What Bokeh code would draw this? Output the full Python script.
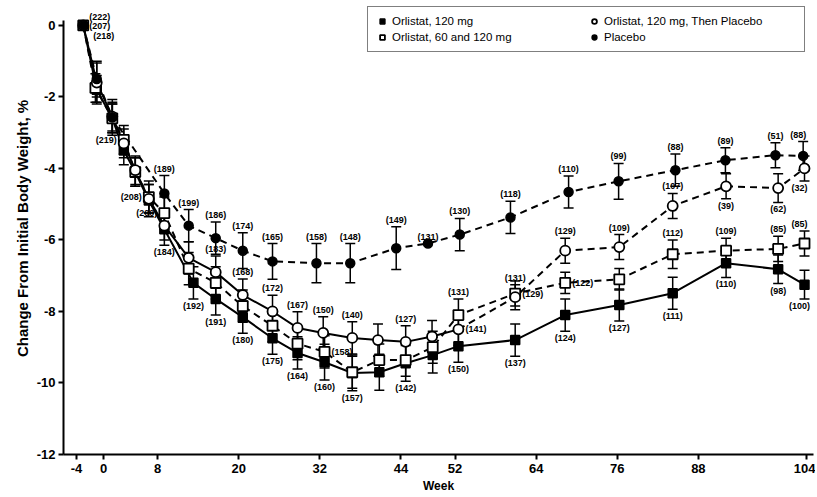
from bokeh.plotting import figure
from bokeh.models import (ColumnDataSource, Whisker, TeeHead, FixedTicker,
                          Legend, LegendItem, Label)
from bokeh.embed import file_html
from bokeh.resources import INLINE
from bokeh.core.properties import value

# ---------------- data ----------------
x_ticks = [-4, 0, 8, 20, 32, 44, 52, 64, 76, 88, 104]
y_ticks = [0, -2, -4, -6, -8, -10, -12]

# Orlistat, 120 mg (filled squares)
o120_week = [-3, -1, 1.3, 3, 4.7, 6.7, 9, 13.3, 16.6, 20.6, 25, 28.7, 32.7,
             36.8, 40.8, 44.7, 48.7, 52.5, 60.9, 68.3, 76.3, 84.2, 92.1, 99.8, 103.7]
o120_val = [0, -1.8, -2.6, -3.5, -4.1, -4.9, -5.7, -7.2, -7.65, -8.16, -8.75, -9.16, -9.42,
            -9.72, -9.7, -9.45, -9.22, -8.97, -8.8, -8.1, -7.82, -7.49, -6.65, -6.82, -7.25]
o120_err = [0, 0.4, 0.4, 0.4, 0.4, 0.45, 0.45, 0.45, 0.45, 0.45, 0.45, 0.45, 0.5,
            0.5, 0.5, 0.5, 0.5, 0.45, 0.45, 0.45, 0.45, 0.45, 0.4, 0.4, 0.4]
o120_n = [None, None, None, None, None, None, 184, 192, 191, 180, 175, 164, 160,
          157, None, 142, None, 150, 137, 124, 127, 111, 110, 98, 100]

# Orlistat, 60 and 120 mg (open squares)
o60_week = [-3, -1.2, 1.3, 3, 4.7, 6.7, 9, 12.6, 16.6, 20.6, 25, 28.7, 32.7,
            36.8, 40.8, 44.7, 48.7, 52.5, 60.9, 68.3, 76.3, 84.2, 92.1, 99.8, 103.7]
o60_val = [0, -1.75, -2.6, -3.2, -4.1, -4.8, -5.25, -6.8, -7.2, -7.85, -8.4, -8.9, -9.13,
           -9.7, -9.36, -9.36, -9.0, -8.1, -7.5, -7.2, -7.1, -6.4, -6.3, -6.25, -6.1]
o60_err = [0, 0.4, 0.4, 0.4, 0.4, 0.45, 0.45, 0.45, 0.45, 0.45, 0.45, 0.45, 0.45,
           0.45, 0.45, 0.45, 0.45, 0.45, 0.35, 0.3, 0.3, 0.4, 0.35, 0.35, 0.35]
o60_n = [None, None, None, 219, None, 208, 200, None, None, None, None, None, 158,
         None, None, None, None, 131, 129, 122, None, 112, 109, 85, 85]

# Orlistat, 120 mg, then placebo (open circles)
ocp_week = [-3, -1, 1.3, 3, 4.7, 6.7, 9, 12.6, 16.6, 20.6, 25, 28.7, 32.5,
            36.8, 40.6, 44.7, 48.6, 52.5, 60.9, 68.3, 76.3, 84.2, 92.1, 99.8, 103.7]
ocp_val = [0, -1.6, -2.55, -3.3, -4.05, -4.85, -5.6, -6.5, -6.9, -7.54, -8.0, -8.46, -8.6,
           -8.74, -8.8, -8.85, -8.7, -8.5, -7.6, -6.3, -6.2, -5.05, -4.5, -4.55, -4.0]
ocp_err = [0, 0.55, 0.4, 0.4, 0.4, 0.4, 0.4, 0.45, 0.45, 0.45, 0.45, 0.45, 0.45,
           0.45, 0.45, 0.45, 0.45, 0.45, 0.35, 0.35, 0.35, 0.35, 0.35, 0.4, 0.35]
ocp_n = [None, None, None, None, None, None, None, None, 183, 168, 172, 167, 150,
         140, None, 127, None, 141, 131, 129, 109, 107, 39, 62, 32]

# Placebo (filled circles)
pl_week = [-3, -1, 1.3, 9, 12.6, 16.6, 20.6, 25, 31.5, 36.5, 43.3, 48, 52.7,
           60.2, 68.8, 76.2, 84.6, 92, 99.4, 103.5]
pl_val = [0, -1.5, -2.57, -4.7, -5.6, -5.95, -6.3, -6.6, -6.65, -6.65, -6.23, -6.1, -5.85,
          -5.37, -4.66, -4.36, -4.05, -3.77, -3.63, -3.65]
pl_err = [0, 0.5, 0.5, 0.5, 0.45, 0.45, 0.5, 0.5, 0.55, 0.55, 0.6, 0, 0.45,
          0.45, 0.45, 0.5, 0.45, 0.35, 0.35, 0.4]
pl_n = [None, None, None, 189, 199, 186, 174, 165, 158, 148, 149, 131, 130,
        118, 110, 99, 88, 89, 51, 88]

baseline_n = [222, 207, 218]

legend_labels = ["Orlistat, 120 mg", "Orlistat, 60 and 120 mg",
                 "Orlistat, 120 mg, Then Placebo", "Placebo"]

# ---------------- styling ----------------
FONT = "Liberation Sans"
o120_side = ["b"] * len(o120_week)
o60_side = ["", "", "", "l", "", "l", "l", "", "", "", "", "", "r",
            "", "", "", "", "a", "r", "r", "", "a", "a", "a", "a"]
ocp_side = ["a"] * 22 + ["b", "b", "b"]
ocp_side[17] = "r"
pl_side = ["a"] * len(pl_week)

W, H = 815, 495
p = figure(width=W, height=H, x_range=(-5.92, 105.03), y_range=(-12, 0.64),
           output_backend="svg", toolbar_location=None,
           min_border_left=63, min_border_right=2, min_border_top=2,
           min_border_bottom=40)
p.grid.visible = False
p.outline_line_color = None
p.background_fill_color = "white"

p.xaxis.ticker = FixedTicker(ticks=x_ticks)
p.yaxis.ticker = FixedTicker(ticks=y_ticks)
p.yaxis.bounds = (-12, 0.14)
p.xaxis.major_label_overrides = {t: str(t) for t in x_ticks}
p.yaxis.major_label_overrides = {t: str(t) for t in y_ticks}
for ax in (p.xaxis, p.yaxis):
    ax.axis_line_width = 2
    ax.axis_line_color = "black"
    ax.major_tick_line_width = 2
    ax.major_tick_in = 0
    ax.major_tick_out = 5
    ax.minor_tick_line_color = None
    ax.major_label_text_font = FONT
    ax.major_label_text_font_size = "13px"
    ax.major_label_text_font_style = "bold"
    ax.major_label_text_color = "black"
    ax.axis_label_text_font = FONT
    ax.axis_label_text_font_style = "bold"
    ax.axis_label_text_color = "black"
p.xaxis.major_label_standoff = 4
p.yaxis.major_label_standoff = 3
p.xaxis.axis_label = "Week"
p.xaxis.axis_label_text_font_size = "12px"
p.xaxis.axis_label_standoff = 3
p.yaxis.axis_label = "Change From Initial Body Weight, %"
p.yaxis.axis_label_text_font_size = "15px"
p.yaxis.axis_label_standoff = 3


def split(weeks, vals, first, last):
    w = [x for x in weeks if first <= x <= last]
    v = [vals[i] for i, x in enumerate(weeks) if first <= x <= last]
    return w, v


LW = 2
DASH = "7 5"
p.line(o120_week, o120_val, line_width=LW, line_color="black")
p.line(o60_week, o60_val, line_width=LW, line_color="black", line_dash=DASH)
w1, v1 = split(ocp_week, ocp_val, -10, 52.6)
w2, v2 = split(ocp_week, ocp_val, 52.4, 200)
p.line(w1, v1, line_width=LW, line_color="black")
p.line(w2, v2, line_width=LW, line_color="black", line_dash=DASH)
p.line(pl_week, pl_val, line_width=LW, line_color="black", line_dash=DASH)


def whiskers(weeks, vals, errs):
    xs = [w for w, e in zip(weeks, errs) if e > 0]
    lo = [v - e for v, e in zip(vals, errs) if e > 0]
    hi = [v + e for v, e in zip(vals, errs) if e > 0]
    src = ColumnDataSource(dict(x=xs, lo=lo, hi=hi))
    wk = Whisker(source=src, base="x", lower="lo", upper="hi",
                 line_color="black", line_width=1.5,
                 upper_head=TeeHead(size=10, line_width=1.5, line_color="black"),
                 lower_head=TeeHead(size=10, line_width=1.5, line_color="black"))
    p.add_layout(wk)


for s in [(o120_week, o120_val, o120_err), (o60_week, o60_val, o60_err),
          (ocp_week, ocp_val, ocp_err), (pl_week, pl_val, pl_err)]:
    whiskers(*s)

r_o120 = p.scatter(o120_week, o120_val, marker="square", size=9,
                   fill_color="black", line_color="black", line_width=1.5)
r_o60 = p.scatter(o60_week, o60_val, marker="square", size=10,
                  fill_color="white", line_color="black", line_width=1.8)
r_ocp = p.scatter(ocp_week, ocp_val, marker="circle", size=10,
                  fill_color="white", line_color="black", line_width=1.8)
r_pl = p.scatter(pl_week, pl_val, marker="circle", size=9,
                 fill_color="black", line_color="black", line_width=1.5)


def nlabels(weeks, vals, errs, ns, sides):
    groups = {}
    for w, v, e, n, s in zip(weeks, vals, errs, ns, sides):
        if n is None or not s:
            continue
        edge = -5 if w > 102 else 0
        if s == "a":
            y, align, base, dx, dy = v + e, "center", "bottom", edge, -2
        elif s == "b":
            y, align, base, dx, dy = v - e, "center", "top", edge, 2
        elif s == "r":
            y, align, base, dx, dy = v, "left", "middle", 7, 0
        else:
            y, align, base, dx, dy = v, "right", "middle", -7, 0
        g = groups.setdefault((align, base, dx, dy), dict(x=[], y=[], t=[]))
        g["x"].append(w)
        g["y"].append(y)
        g["t"].append("(%d)" % n)
    for (align, base, dx, dy), d in groups.items():
        p.text(x="x", y="y", text="t", source=ColumnDataSource(d),
               text_align=align, text_baseline=base, x_offset=dx, y_offset=dy,
               text_font=value(FONT), text_font_size="9px",
               text_font_style="bold", text_color="black")


nlabels(o120_week, o120_val, o120_err, o120_n, o120_side)
nlabels(o60_week, o60_val, o60_err, o60_n, o60_side)
nlabels(ocp_week, ocp_val, ocp_err, ocp_n, ocp_side)
nlabels(pl_week, pl_val, pl_err, pl_n, pl_side)

# baseline sample sizes stacked to the right of the first point
bl_dy = [8, -1, -11]
for n, dy in zip(baseline_n, bl_dy):
    p.add_layout(Label(x=o120_week[0], y=o120_val[0], text="(%d)" % n,
                       x_offset=6 + (n == 218) * 4, y_offset=dy,
                       text_align="left", text_baseline="middle",
                       text_font=FONT, text_font_size="9px",
                       text_font_style="bold", text_color="black"))

# legend (markers only)
lg = Legend(items=[LegendItem(label=legend_labels[0], renderers=[r_o120]),
                   LegendItem(label=legend_labels[1], renderers=[r_o60]),
                   LegendItem(label=legend_labels[2], renderers=[r_ocp]),
                   LegendItem(label=legend_labels[3], renderers=[r_pl])],
            ncols=2, location=(304, 402))
lg.border_line_color = "black"
lg.border_line_width = 1.5
lg.background_fill_alpha = 1
lg.label_text_font = FONT
lg.label_text_font_size = "11.5px"
lg.label_text_color = "black"
lg.glyph_width = 12
lg.glyph_height = 12
lg.label_height = 12
lg.label_width = 192
lg.label_standoff = 4
lg.spacing = 4
lg.padding = 8
lg.margin = 0
p.add_layout(lg, "center")

open("out.html", "w").write(file_html(p, INLINE))
